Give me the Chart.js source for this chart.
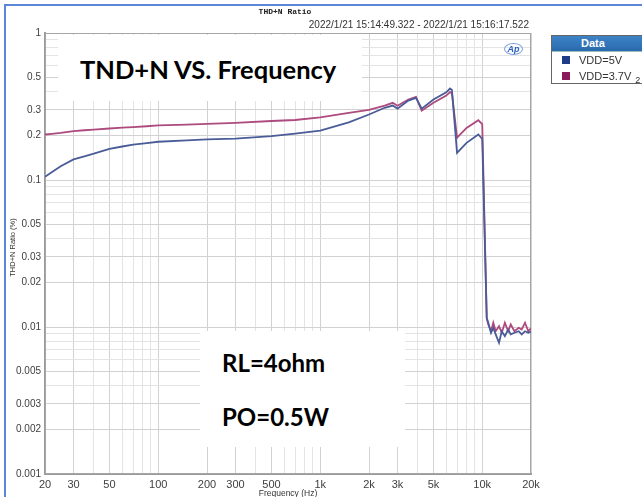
<!DOCTYPE html>
<html>
<head>
<meta charset="utf-8">
<script src="https://cdn.jsdelivr.net/npm/chart.js@4/dist/chart.umd.min.js"></script>
<style>
  html, body { margin: 0; padding: 0; background: #fff; }
  body { width: 642px; height: 497px; overflow: hidden; position: relative; font-family: "Liberation Sans", Arial, sans-serif; }
  #c { position: absolute; left: 0; top: 0; }
  .abs { position: absolute; white-space: nowrap; }
  .frame-top { left: 4px; top: 4px; width: 640px; height: 2px; background: #5b86d6; }
  .frame-left { left: 4px; top: 4px; width: 2px; height: 495px; background: #5b86d6; }
  .hdr { left: 240px; top: 7px; width: 90px; text-align: center; font: bold 8px "Liberation Mono", monospace; color: #222; }
  .stamp { right: 113px; top: 19px; font-size: 10px; color: #333; }
  .logo { left: 504px; top: 43px; width: 17px; height: 10px; border: 1px solid #7a9ee0; border-radius: 50%;
          font: italic bold 9px "Liberation Sans", Arial, sans-serif; color: #2a5fc0; text-align: center; line-height: 10px; }
  .box { background: #fff; }
  .big { font-family: Lato, "Open Sans", sans-serif; font-weight: bold; color: #000; }
  .ytitle { left: -30px; top: 243px; width: 84px; text-align: center; font-size: 7.5px; color: #333; transform: rotate(-90deg); }
  .xtitle { left: 238px; top: 488px; width: 100px; text-align: center; font-size: 8.5px; color: #333; }
  .legend { left: 551px; top: 35px; width: 100px; height: 47px; border: 1px solid #666; background: #fff; }
  .legend .head { height: 15px; background: linear-gradient(#3d83c6, #2a6aad); color: #fff; font: bold 11px "Liberation Sans", Arial, sans-serif;
                  line-height: 15px; padding-left: 29px; border-bottom: 1px solid #9bb; }
  .legend .row { position: relative; height: 16px; font-size: 11px; color: #333; line-height: 16px; padding-left: 27px; }
  .legend .sw { position: absolute; left: 10px; top: 4px; width: 8px; height: 8px; }
  .legend sub { font-size: 9px; vertical-align: -3px; margin-left: 4px; }
</style>
</head>
<body>
<canvas id="c" width="642" height="497"></canvas>

<div class="abs frame-top"></div>
<div class="abs frame-left"></div>
<div class="abs hdr">THD+N Ratio</div>
<div class="abs stamp">2022/1/21 15:14:49.322 - 2022/1/21 15:16:17.522</div>
<div class="abs logo">Ap</div>

<div class="abs box" style="left:58px;top:35px;width:304px;height:66px;"></div>
<div class="abs big" style="left:80px;top:54px;font-size:25.5px;">TND+N VS. Frequency</div>

<div class="abs box" style="left:200px;top:331px;width:205px;height:116px;"></div>
<div class="abs big" style="left:222px;top:348px;font-size:24px;">RL=4ohm</div>
<div class="abs big" style="left:222px;top:402px;font-size:24px;">PO=0.5W</div>

<div class="abs ytitle">THD+N Ratio (%)</div>
<div class="abs xtitle">Frequency (Hz)</div>

<div class="abs legend">
  <div class="head">Data</div>
  <div class="row"><span class="sw" style="background:#1f3c88"></span>VDD=5V</div>
  <div class="row"><span class="sw" style="background:#8a1a5c"></span>VDD=3.7V<sub>2</sub></div>
</div>

<script>
// ─── Dados ───────────────────────────────────────────────────────────────────
const FREQ = [
  20, 22, 25, 30, 35, 40, 50, 60, 70, 85, 100, 150, 200, 300, 500, 700,
  1000, 1500, 2000, 2500, 2800, 3000, 3500, 3900, 4230, 5000, 6000, 6325, 6500,
  6990, 8000, 9460, 10000, 10660,
  10900, 11330, 11700, 12110, 12690, 13200, 13800, 14450, 15000, 15800,
  16800, 17530, 18370, 19250, 20000,
];

const VDD_5V = [
  0.105, 0.113, 0.124, 0.138, 0.145, 0.151, 0.163, 0.169, 0.174, 0.178, 0.182, 0.186, 0.189, 0.191, 0.199, 0.207,
  0.217, 0.247, 0.279, 0.310, 0.321, 0.306, 0.347, 0.362, 0.306, 0.353, 0.395, 0.419, 0.410,
  0.153, 0.179, 0.204, 0.190, 0.0115,
  0.0107, 0.00914, 0.00988, 0.0089, 0.00781, 0.00936, 0.00866, 0.00962, 0.0089, 0.00914,
  0.00936, 0.0089, 0.00936, 0.00914, 0.0093,
];

const VDD_37V = [
  0.204, 0.206, 0.209, 0.215, 0.218, 0.220, 0.224, 0.227, 0.229, 0.232, 0.235, 0.238, 0.241, 0.245, 0.252, 0.256,
  0.267, 0.286, 0.300, 0.321, 0.335, 0.320, 0.353, 0.368, 0.296, 0.335, 0.375, 0.396, 0.390,
  0.194, 0.226, 0.255, 0.240, 0.0115,
  0.0104, 0.00936, 0.0107, 0.00936, 0.01013, 0.00914, 0.0107, 0.00936, 0.0104, 0.00936,
  0.00988, 0.00962, 0.0107, 0.00936, 0.0098,
];

// Rótulos e linhas de grade dos eixos
const X_LABELS = [20, 30, 50, 100, 200, 300, 500, 1000, 2000, 3000, 5000, 10000, 20000];
const Y_LABELS = [1, 0.5, 0.3, 0.2, 0.1, 0.05, 0.03, 0.02, 0.01, 0.005, 0.003, 0.002, 0.001];

function gradeLog(min, max) {
  const out = [];
  for (let d = Math.floor(Math.log10(min)); d <= Math.ceil(Math.log10(max)); d++) {
    for (let m = 1; m <= 9; m++) {
      const v = +(m * Math.pow(10, d)).toPrecision(6);
      if (v >= min * 0.999 && v <= max * 1.001) out.push(v);
    }
  }
  return out;
}

const temRotulo = (lista, v) => lista.some(l => Math.abs(l - v) / l < 1e-6);
const rotuloX = v => v >= 1000 ? (v / 1000) + 'k' : String(v);

const pontos = vals => FREQ.map((f, i) => ({ x: f, y: vals[i] }));

// ─── Moldura do gráfico ──────────────────────────────────────────────────────
const moldura = {
  id: 'moldura',
  beforeDatasetsDraw(chart) {
    const { ctx, chartArea: a } = chart;
    ctx.save();
    ctx.strokeStyle = '#a6a6a6';
    ctx.lineWidth = 1;
    ctx.strokeRect(a.left + 0.5, a.top + 0.5, a.right - a.left - 1, a.bottom - a.top - 1);
    ctx.restore();
  },
};

new Chart(document.getElementById('c'), {
  type: 'line',
  data: {
    datasets: [
      { label: 'VDD=5V',   data: pontos(VDD_5V),  borderColor: '#4a5c98', borderWidth: 1.8, pointRadius: 0, tension: 0 },
      { label: 'VDD=3.7V', data: pontos(VDD_37V), borderColor: '#ad4a7e', borderWidth: 1.8, pointRadius: 0, tension: 0 },
    ],
  },
  options: {
    responsive: false,
    animation: false,
    devicePixelRatio: 1,
    layout: { padding: { left: 0, top: 33, right: 111, bottom: 0 } },
    plugins: { legend: { display: false }, tooltip: { enabled: false } },
    scales: {
      x: {
        type: 'logarithmic', min: 20, max: 20000,
        afterBuildTicks: s => { s.ticks = gradeLog(20, 20000).map(v => ({ value: v })); },
        afterFit: s => { s.height = 23; },
        ticks: {
          autoSkip: false, maxRotation: 0, padding: 4,
          font: { family: 'Liberation Sans', size: 11 }, color: '#404040',
          callback: v => temRotulo(X_LABELS, v) ? rotuloX(v) : '',
        },
        grid: {
          drawTicks: false,
          color: c => c.tick && temRotulo(X_LABELS, c.tick.value) ? '#d2d2d2' : '#e4e4e4',
        },
        border: { color: '#9a9a9a', width: 2 },
      },
      y: {
        type: 'logarithmic', min: 0.001, max: 1,
        afterBuildTicks: s => { s.ticks = gradeLog(0.001, 1).map(v => ({ value: v })); },
        afterFit: s => { s.width = 45; },
        ticks: {
          autoSkip: false, padding: 4,
          font: { family: 'Liberation Sans', size: 10 }, color: '#404040',
          callback: v => temRotulo(Y_LABELS, v) ? String(v) : '',
        },
        grid: {
          drawTicks: false,
          color: c => c.tick && temRotulo(Y_LABELS, c.tick.value) ? '#d2d2d2' : '#e4e4e4',
        },
        border: { color: '#9a9a9a', width: 2 },
      },
    },
  },
  plugins: [moldura],
});
</script>
</body>
</html>
